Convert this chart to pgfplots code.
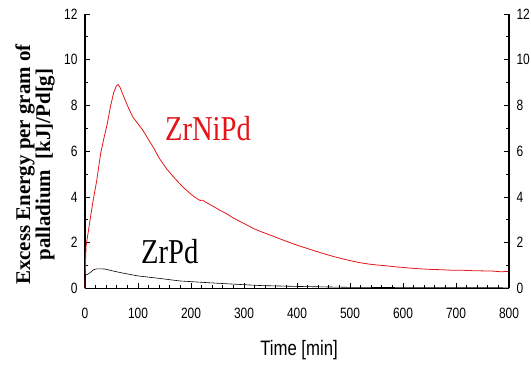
\documentclass[border=0pt]{standalone}
\usepackage{pgfplots}
\pgfplotsset{compat=1.18}
\usepackage{fontspec}
\setmainfont{Liberation Serif}
\newfontfamily\narrow[FakeStretch=0.8]{Liberation Sans}
\newfontfamily\narrowserif[FakeStretch=0.82]{Liberation Serif}
\definecolor{zred}{RGB}{228,20,24}
\pgfplotstableread{
x y
0 0
1 1.2
2 1.85
5 2.3
9.4 2.97
15 3.8
22 4.7
29.5 5.9
36 6.6
42 7.2
48 7.95
54 8.55
59 8.85
62 8.92
66 8.8
72 8.45
80 8.0
86 7.7
91 7.47
100 7.2
110 6.89
120 6.5
129 6.17
140 5.7
154 5.23
170 4.8
185 4.43
200 4.12
210 3.95
217 3.85
222 3.86
228 3.77
245 3.55
256 3.40
267 3.27
280 3.08
295 2.9
305 2.78
318 2.62
335 2.46
350 2.33
370 2.15
392 1.96
410 1.82
430 1.67
445 1.56
461 1.45
480 1.33
500 1.22
518 1.13
535 1.07
550 1.03
565 1.0
581 0.96
600 0.92
620 0.88
640 0.85
656 0.83
675 0.82
690 0.80
710 0.80
730 0.78
750 0.77
770 0.76
785 0.73
800 0.75
}\zrnipd
\pgfplotstableread{
x y
0 0
1 0.6
5 0.62
10 0.7
16 0.82
22 0.86
30 0.86
38 0.85
50 0.78
70 0.68
100 0.55
141 0.44
179 0.33
235 0.25
273 0.2
330 0.13
400 0.09
450 0.07
500 0.05
600 0.04
800 0.03
}\zrpd
\begin{document}
\begin{tikzpicture}
\pgfplotsset{
  common/.style={
    scale only axis, width=424bp, height=274.5bp,
    at={(85bp,77.5bp)}, anchor=south west,
    xmin=0, xmax=800, ymin=0, ymax=12,
    tick align=inside,
    /pgf/number format/assume math mode=true,
    ticklabel style={font=\narrow\fontsize{15}{15}\selectfont},
    major tick length=5bp, minor tick length=3bp,
    every tick/.style={black, line width=0.8pt},
    axis line style={line width=1.1pt},
    clip=false,
  }
}
\begin{axis}[common,
  axis x line*=bottom, axis y line*=left,
  xtick={0,100,...,800}, minor x tick num=4,
  ytick={0,2,...,12}, minor y tick num=1,
  xticklabel style={yshift=-16bp},
  yticklabel style={xshift=-4bp},
  x axis line style={line width=1.6pt},
]
\addplot[zred, line width=0.8pt] table {\zrnipd};
\addplot[black, line width=0.6pt] table {\zrpd};
\node[zred, font=\narrowserif\fontsize{35}{35}\selectfont] at (axis cs:232,7.0) {ZrNiPd};
\node[black, font=\narrowserif\fontsize{35}{35}\selectfont] at (axis cs:160,1.6) {ZrPd};
\end{axis}
\begin{axis}[common,
  axis x line=none, axis y line*=right,
  ytick={0,2,...,12}, minor y tick num=1,
  yticklabel style={xshift=4bp},
]
\end{axis}
\node[rotate=90, align=center, font=\bfseries\fontsize{21}{20}\selectfont] at (35bp,201.5bp) {Excess Energy per gram of\\palladium\ \ [kJ]/Pd[g]};
\node[font=\narrow\fontsize{21}{21}\selectfont] at (299bp,16bp) {Time [min]};
\pgfresetboundingbox
\path (0,0) rectangle (531bp,366bp);
\end{tikzpicture}
\end{document}
